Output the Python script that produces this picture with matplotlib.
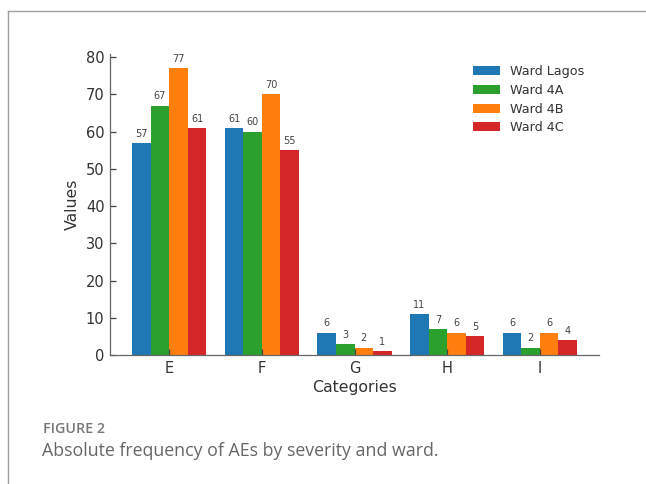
import matplotlib
matplotlib.use("Agg")
import matplotlib.pyplot as plt
import numpy as np
from matplotlib.lines import Line2D

categories = ["E", "F", "G", "H", "I"]
series_names = ["Ward Lagos", "Ward 4A", "Ward 4B", "Ward 4C"]
ward_lagos = [57, 61, 6, 11, 6]
ward_4a = [67, 60, 3, 7, 2]
ward_4b = [77, 70, 2, 6, 6]
ward_4c = [61, 55, 1, 5, 4]
colors = ["#1f77b4", "#2ca02c", "#ff7f0e", "#d62728"]

series = [ward_lagos, ward_4a, ward_4b, ward_4c]

fig = plt.figure(figsize=(6.46, 4.84), dpi=100)
ax = fig.add_axes([110/646, 1-355/484, (599-110)/646, (355-54)/484])

x = np.arange(len(categories))
w = 0.2
for i, (vals, name, c) in enumerate(zip(series, series_names, colors)):
    bars = ax.bar(x + (i - 1.5) * w, vals, w, label=name, color=c)
    for b, v in zip(bars, vals):
        ax.annotate(str(v), (b.get_x() + b.get_width()/2, v), xytext=(0, 3),
                    textcoords="offset points", ha="center", va="bottom",
                    fontsize=7, color="#444444")

ax.set_xticks(x)
ax.set_xticklabels(categories)
ax.set_yticks(range(0, 81, 10))
ax.set_ylim(0, 80.85)
ax.set_xlim(-0.64, 4.64)
for s in ["top", "right"]:
    ax.spines[s].set_visible(False)
for s in ["left", "bottom"]:
    ax.spines[s].set_color("#666666")
    ax.spines[s].set_linewidth(0.9)
ax.tick_params(direction="in", length=4, width=0.9, color="#444444",
               labelsize=10.5, labelcolor="#333333", pad=4)
ax.set_xlabel("Categories", fontsize=11.3, color="#333333", labelpad=3)
ax.set_ylabel("Values", fontsize=11.3, color="#333333", labelpad=4)

leg = fig.legend(*ax.get_legend_handles_labels(), loc="upper left",
                 bbox_to_anchor=(468/646, 1-60/484), borderaxespad=0,
                 frameon=False, fontsize=9.2, handlelength=2.1, handleheight=0.7,
                 labelspacing=0.45, handletextpad=0.78, borderpad=0.4)
for t in leg.get_texts():
    t.set_color("#333333")

# frame lines
fig.add_artist(Line2D([8/646, 1.0], [1-11/484, 1-11/484], color="#a0a0a0", lw=1.0))
fig.add_artist(Line2D([8/646, 8/646], [0, 1-11/484], color="#a0a0a0", lw=1.0))

fig.text(43/646, 1-429/484, "FIGURE 2", fontsize=10.3, color="#777777",
         family="Open Sans", weight="semibold", va="center", ha="left")
fig.text(42/646, 1-451/484, "Absolute frequency of AEs by severity and ward.",
         fontsize=12.8, color="#666666", family="Open Sans", va="center", ha="left")

fig.savefig("out.png", dpi=100)
